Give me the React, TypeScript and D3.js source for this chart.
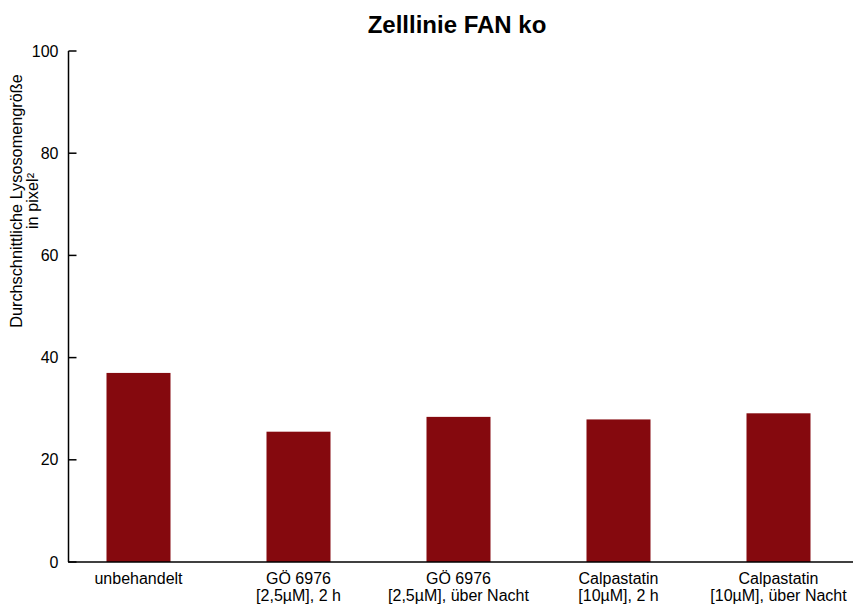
import React, { useEffect, useRef } from 'react';
import * as d3 from 'd3';

const categories = [
  ['unbehandelt'],
  ['GÖ 6976', '[2,5µM], 2 h'],
  ['GÖ 6976', '[2,5µM], über Nacht'],
  ['Calpastatin', '[10µM], 2 h'],
  ['Calpastatin', '[10µM], über Nacht'],
];
const values = [37.0, 25.5, 28.4, 27.9, 29.1];
const yTicks = [0, 20, 40, 60, 80, 100];
const title = 'Zelllinie FAN ko';
const yLabel = ['Durchschnittliche Lysosomengröße', 'in pixel²'];

const App: React.FC = () => {
  const svgRef = useRef<SVGSVGElement>(null);

  useEffect(() => {
    if (!svgRef.current) return;
    const svg = d3.select(svgRef.current);
    svg.selectAll('*').remove();

    const width = 853;
    const height = 606;
    const font = "'Liberation Sans', Arial, sans-serif";

    const x = d3.scaleBand<number>()
      .domain(d3.range(values.length))
      .range([58.5, 858.5])
      .paddingInner(0.6)
      .paddingOuter(0.3);
    const y = d3.scaleLinear().domain([0, 100]).range([562, 51]);

    svg.attr('width', width).attr('height', height).style('display', 'block');

    svg.append('rect').attr('width', width).attr('height', height).attr('fill', '#fff');

    // bars
    svg.selectAll('.bar')
      .data(values)
      .join('rect')
      .attr('class', 'bar')
      .attr('x', (_, i) => x(i)!)
      .attr('width', x.bandwidth())
      .attr('y', d => y(d))
      .attr('height', d => y(0) - y(d))
      .attr('fill', '#85090e');

    // y axis
    const yAxis = svg.append('g').attr('transform', 'translate(68.5,0)');
    yAxis.append('line')
      .attr('y1', y(100)).attr('y2', y(0))
      .attr('stroke', '#000').attr('stroke-width', 1.5);
    yTicks.forEach(t => {
      yAxis.append('line')
        .attr('x1', 0).attr('x2', 8)
        .attr('y1', y(t)).attr('y2', y(t))
        .attr('stroke', '#000').attr('stroke-width', 1.5);
      yAxis.append('text')
        .attr('x', -10).attr('y', y(t))
        .attr('dy', '0.35em')
        .attr('text-anchor', 'end')
        .style('font-family', font)
        .style('font-size', '16px')
        .text(t);
    });

    // x baseline
    svg.append('line')
      .attr('x1', 68).attr('x2', width)
      .attr('y1', y(0)).attr('y2', y(0))
      .attr('stroke', '#000').attr('stroke-width', 1.5);

    // category labels
    categories.forEach((lines, i) => {
      const cx = x(i)! + x.bandwidth() / 2;
      lines.forEach((l, j) => {
        svg.append('text')
          .attr('x', cx).attr('y', 584 + j * 16.5)
          .attr('text-anchor', 'middle')
          .style('font-family', font)
          .style('font-size', '16px')
          .text(l);
      });
    });

    // title
    svg.append('text')
      .attr('x', 457).attr('y', 33)
      .attr('text-anchor', 'middle')
      .style('font-family', font)
      .style('font-size', '24px')
      .style('font-weight', 'bold')
      .text(title);

    // y label
    const yl = svg.append('text')
      .attr('transform', 'translate(0,201) rotate(-90)')
      .attr('text-anchor', 'middle')
      .style('font-family', font)
      .style('font-size', '16.3px');
    yLabel.forEach((l, j) => {
      yl.append('tspan').attr('x', 0).attr('y', 22 + j * 16).text(l);
    });
  }, []);

  return <svg ref={svgRef} style={{ position: 'absolute', left: 0, top: 0 }} />;
};

export default App;
